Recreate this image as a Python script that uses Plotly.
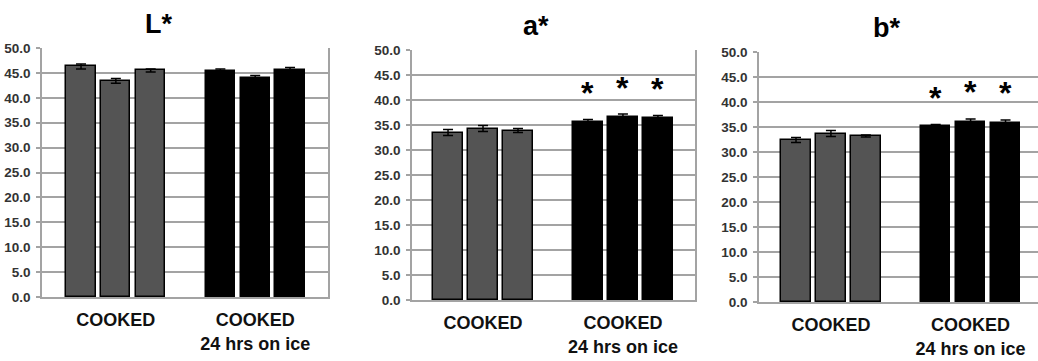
import plotly.graph_objects as go

# ---- data ----
positions = [0, 1, 2, 4, 5, 6]
group_ticks = [1, 5]
group_labels = ["COOKED", "COOKED<br>24 hrs on ice"]
bar_colors = ["#545454", "#545454", "#545454", "#000000", "#000000", "#000000"]

titles = ["L*", "a*", "b*"]
L_values = [46.3, 43.4, 45.5, 45.3, 43.9, 45.6]
L_errors = [0.5, 0.5, 0.3, 0.5, 0.6, 0.5]
a_values = [33.5, 34.3, 33.9, 35.6, 36.6, 36.4]
a_errors = [0.6, 0.6, 0.4, 0.5, 0.6, 0.5]
b_values = [32.4, 33.7, 33.2, 35.3, 36.0, 35.9]
b_errors = [0.5, 0.6, 0.2, 0.2, 0.6, 0.5]
L_signif = [False, False, False, False, False, False]
a_signif = [False, False, False, True, True, True]
b_signif = [False, False, False, True, True, True]

W, H = 1038, 361
# plot boxes in pixels (left, right, top, bottom)
boxes = [(42, 328, 48, 297), (412, 695, 50, 300), (759, 1038, 52, 302)]
xranges = [[-1.12, 7.09], [-1.03, 7.06], [-1.06, 6.93]]
title_x = [158, 535.5, 886]
title_y = [24, 26, 28]
right_border = [True, True, False]

GRID = "#a3a3a3"
FONT = "Liberation Sans, Arial, sans-serif"

fig = go.Figure()
panels = [(L_values, L_errors, L_signif), (a_values, a_errors, a_signif), (b_values, b_errors, b_signif)]
annotations = []
for i, (vals, errs, sig) in enumerate(panels):
    sfx = "" if i == 0 else str(i + 1)
    fig.add_trace(go.Bar(
        x=positions, y=vals,
        error_y=dict(type="data", array=errs, visible=True, color="#000000", thickness=1.5, width=5),
        marker=dict(color=bar_colors, line=dict(color="#000000", width=1.5)),
        width=0.84, xaxis="x" + sfx, yaxis="y" + sfx, showlegend=False,
    ))
    l, r, t, b = boxes[i]
    fig.layout["xaxis" + sfx] = dict(
        domain=[l / W, r / W], anchor="y" + sfx, range=xranges[i], automargin=False,
        tickmode="array", tickvals=group_ticks, ticktext=group_labels,
        showgrid=False, zeroline=False, showline=True, linecolor=GRID, linewidth=1.5,
        mirror=False, ticks="", ticklabelstandoff=6,
        tickfont=dict(family=FONT, size=18, color="#111111", weight="bold"),
    )
    fig.layout["yaxis" + sfx] = dict(
        domain=[1 - b / H, 1 - t / H], anchor="x" + sfx, range=[0, 50], dtick=5, automargin=False,
        tickformat=".1f", showgrid=True, gridcolor=GRID, gridwidth=1.5,
        zeroline=False, showline=True, linecolor=GRID, linewidth=1.5,
        mirror=right_border[i], ticks="outside", ticklen=4, tickcolor=GRID, tickwidth=1.5,
        ticklabelstandoff=3,
        tickfont=dict(family=FONT, size=13.5, color="#333333", weight="bold"),
    )
    annotations.append(dict(
        text=titles[i], xref="paper", yref="paper", x=title_x[i] / W, y=1 - title_y[i] / H,
        xanchor="center", yanchor="middle", showarrow=False,
        font=dict(family=FONT, size=27, color="#000000", weight="bold"),
    ))
    for p, v, e, s in zip(positions, vals, errs, sig):
        if s:
            annotations.append(dict(
                text="*", xref="x" + sfx, yref="y" + sfx, x=p, y=v + e + 5.5,
                xanchor="center", yanchor="middle", showarrow=False, yshift=-1,
                font=dict(family=FONT, size=32, color="#000000", weight="bold"),
            ))

fig.update_layout(
    width=W, height=H, margin=dict(l=0, r=0, t=0, b=0, autoexpand=False),
    paper_bgcolor="white", plot_bgcolor="white",
    bargap=0, annotations=annotations,
)
fig.write_html("out.html", config={"displayModeBar": False},
               post_script="document.body.style.margin='0';document.body.style.overflow='hidden';")
